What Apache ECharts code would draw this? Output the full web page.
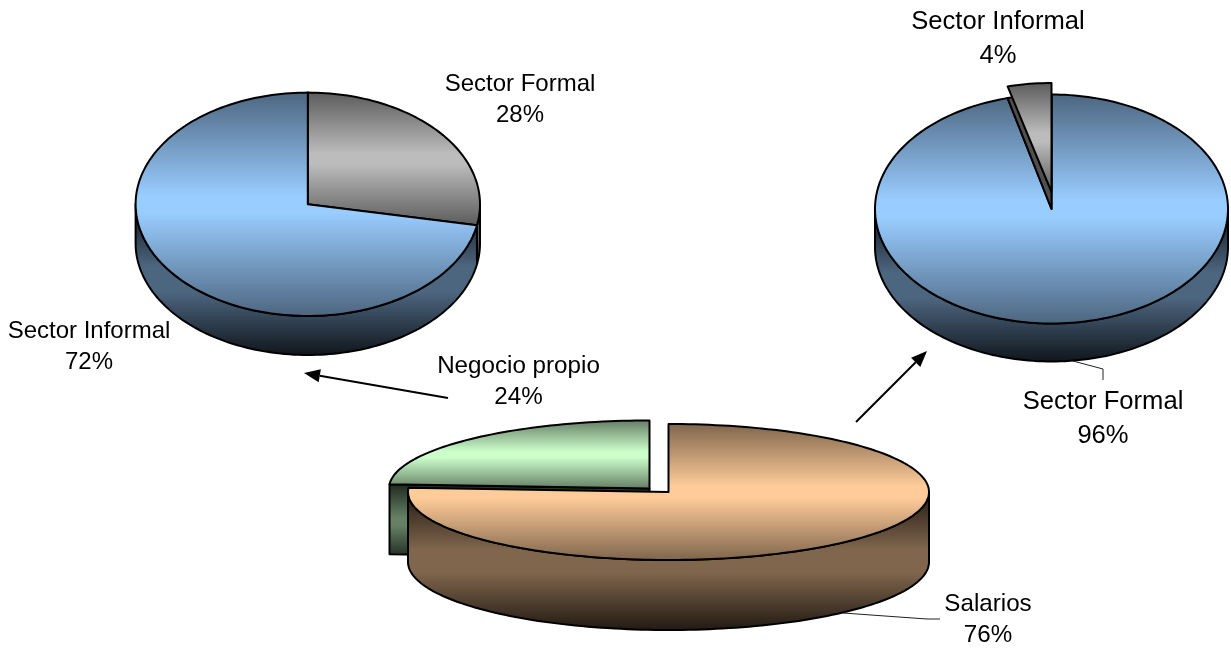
<!DOCTYPE html>
<html><head><meta charset="utf-8">
<style>html,body{margin:0;padding:0;background:#fff}#c{width:1231px;height:649px}</style>
<script src="https://cdn.jsdelivr.net/npm/echarts@6/dist/echarts.min.js"></script>
</head><body><div id="c"></div>
<script>
// --- data (clockwise from 12 o'clock) ---
const leftNames = ['Sector Formal', 'Sector Informal'];
const leftValues = [28, 72];
const rightNames = ['Sector Formal', 'Sector Informal'];
const rightValues = [96, 4];
const bottomNames = ['Salarios', 'Negocio propio'];
const bottomValues = [76, 24];

// --- styles ---
const PALETTE = {
  blue:  {face: ['#4d6680', '#99ccff'], wall: ['#10161c', '#4d6680']},
  gray:  {face: ['#5c5c5c', '#bcbcbc'], wall: ['#1c1c1c', '#606060']},
  brown: {face: ['#80664d', '#ffcc99'], wall: ['#221a12', '#80664d']},
  green: {face: ['#668066', '#ccffcc'], wall: ['#1e2a1e', '#668066']}
};
const FONT = '"Liberation Sans", Arial, sans-serif';

// --- layouts ---
const layouts = [
  {names: leftNames, values: leftValues, cx: 307.8, cy: 204.3, rx: 172.2, ry: 111.7, depth: 39, fs: 24, lh: 31,
   slices: [
     {pal: 'gray', z: 1, label: [520, 99.5]},
     {pal: 'blue', z: 2, label: [89, 346.5]}
   ]},
  {names: rightNames, values: rightValues, cx: 1051.5, cy: 209, rx: 176.5, ry: 114.5, depth: 38, fs: 25.6, lh: 34,
   slices: [
     {pal: 'blue', z: 1, label: [1103, 418.5]},
     {pal: 'gray', z: 3, dy: -17, ry: 109, hole: true, label: [998, 39]}
   ]},
  {names: bottomNames, values: bottomValues, cx: 668.5, cy: 492, rx: 260.5, ry: 68, depth: 70, fs: 24.2, lh: 31,
   slices: [
     {pal: 'brown', z: 3, label: [988, 619.5]},
     {pal: 'green', z: 1, dx: -19, dy: -3.5, cut: true, label: [518.5, 381.5]}
   ]}
];

const STROKE = '#000', SW = 2;
const RAD = Math.PI / 180;

function grad(y0, y1, pair, plateau) {
  return new echarts.graphic.LinearGradient(0, y0, 0, y1, [
    {offset: 0, color: pair[0]}, {offset: plateau, color: pair[1]},
    {offset: 1 - plateau, color: pair[1]}, {offset: 1, color: pair[0]}
  ], true);
}
function pt(cx, cy, rx, ry, deg) {
  return [cx + rx * Math.sin(deg * RAD), cy - ry * Math.cos(deg * RAD)];
}
function arc(cx, cy, rx, ry, a0, a1) {
  const n = Math.max(2, Math.ceil(Math.abs(a1 - a0) / 1.5)), out = [];
  for (let i = 0; i <= n; i++) out.push(pt(cx, cy, rx, ry, a0 + (a1 - a0) * i / n));
  return out;
}
function ys(points) {
  const v = points.map(p => p[1]);
  return [Math.min.apply(null, v), Math.max.apply(null, v)];
}
function poly(points, fill, z2, lw) {
  return {type: 'polygon', z2: z2, shape: {points: points},
    style: {fill: fill, stroke: STROKE, lineWidth: lw || SW, lineJoin: 'round'}, silent: true};
}

function makeSeries(L) {
  const total = L.values.reduce((a, b) => a + b, 0);
  return {
    type: 'custom', coordinateSystem: 'none', animation: false, silent: true,
    data: L.values.map((v, i) => ({name: L.names[i], value: [v]})),
    renderItem: function (params, api) {
      const i = params.dataIndex, S = L.slices[i], pal = PALETTE[S.pal];
      let before = 0;
      for (let k = 0; k < i; k++) before += L.values[k];
      const a0 = before / total * 360, a1 = (before + api.value(0)) / total * 360;
      const cx = L.cx + (S.dx || 0), cy = L.cy + (S.dy || 0), rx = L.rx, ry = S.ry || L.ry, d = L.depth;
      const kids = [], base = S.z * 10;

      // outer wall (front half only)
      const w0 = Math.max(a0, 90), w1 = Math.min(a1, 270);
      if (w1 > w0) {
        const top = arc(cx, cy, rx, ry, w0, w1);
        const bot = top.map(p => [p[0], p[1] + d]).reverse();
        const pts = top.concat(bot), yy = ys(pts);
        kids.push(poly(pts, grad(cy, yy[1], pal.wall, 0.42), base));
      }
      // visible cut face of an exploded slice
      if (S.cut) {
        const e = pt(cx, cy, rx, ry, a0), c = [cx, cy];
        const pts = [e, c, [cx, cy + d], [e[0], e[1] + d]], yy = ys(pts);
        kids.push(poly(pts, grad(yy[0], yy[1], pal.wall, 0.45), base));
      }
      // wedge hole left in the pie by a raised slice
      if (S.hole) {
        const pts = [[L.cx, L.cy]].concat(arc(L.cx, L.cy, L.rx, L.ry, a0, a1));
        kids.push(poly(pts, '#4f4f4f', base));
      }
      // top face
      const face = [[cx, cy]].concat(arc(cx, cy, rx, ry, a0, a1)), fy = ys(face);
      kids.push(poly(face, grad(fy[0], fy[1], pal.face, 0.46), base + 1));
      // label
      kids.push({type: 'text', z2: 100, silent: true,
        style: {x: S.label[0], y: S.label[1], text: L.names[i] + '\n' + api.value(0) + '%',
          font: L.fs + 'px ' + FONT, fill: '#000', align: 'center', verticalAlign: 'middle',
          lineHeight: L.lh}});
      return {type: 'group', children: kids};
    }
  };
}

// annotation arrows and leader lines
function arrow(x0, y0, x1, y1) {
  const a = Math.atan2(y1 - y0, x1 - x0), len = 16, half = 6.5;
  const bx = x1 - len * Math.cos(a), by = y1 - len * Math.sin(a);
  const nx = -Math.sin(a) * half, ny = Math.cos(a) * half;
  return [
    {type: 'line', z: 20, silent: true, shape: {x1: x0, y1: y0, x2: bx, y2: by}, style: {stroke: '#000', lineWidth: 2}},
    {type: 'polygon', z: 20, silent: true, shape: {points: [[x1, y1], [bx + nx, by + ny], [bx - nx, by - ny]]}, style: {fill: '#000'}}
  ];
}
function leader(points) {
  return {type: 'polyline', z: 20, silent: true, shape: {points: points}, style: {stroke: '#222', lineWidth: 1, fill: null}};
}

const chart = echarts.init(document.getElementById('c'), null, {renderer: 'canvas'});
chart.setOption({
  backgroundColor: '#fff',
  animation: false,
  tooltip: {show: false},
  series: layouts.map(makeSeries),
  graphic: {elements: [].concat(
    arrow(448, 398, 304, 373),
    arrow(856, 422, 927, 351),
    [leader([[1073, 361], [1103, 369], [1103, 380]]),
     leader([[843, 613], [927, 619], [940, 619]])]
  )}
});
</script></body></html>
